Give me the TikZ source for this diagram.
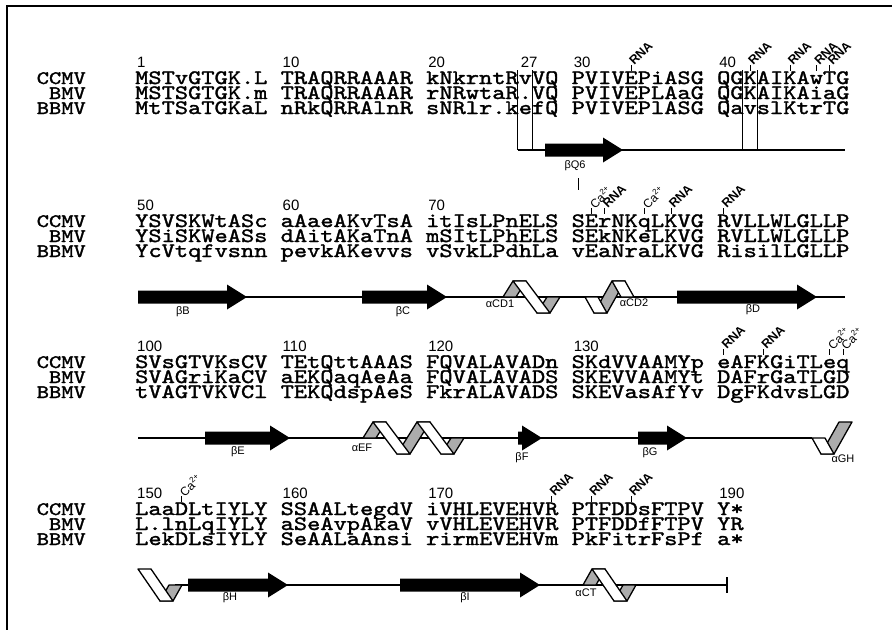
\documentclass[tikz,border=0pt]{standalone}
\usepackage{fontspec}
\setmainfont{Liberation Sans}
\newfontfamily\monofam{lmmono10-regular.otf}[FakeStretch=1.229, FakeBold=1.6]
\newcommand{\seqfont}{\monofam\fontsize{20.5}{15}\selectfont}
\newcommand{\specfont}{\monofam\fontsize{19}{15}\selectfont}
\newcommand{\numfont}{\fontsize{15}{15}\selectfont}
\newcommand{\sitefont}{\bfseries\fontsize{12.5}{12.5}\selectfont}
\newcommand{\ssfont}{\fontsize{11}{11}\selectfont}
\newcommand{\caion}{\mdseries\fontsize{12}{12}\selectfont Ca\textsuperscript{2+}}

% alignment grid (pixels): first column and column pitch
\def\xo{135}
\def\cw{13.23}

\tikzset{
  species/.style={font=\specfont, anchor=base east, inner sep=0pt},
  seq/.style={font=\seqfont, anchor=base west, inner sep=0pt},
  resnum/.style={font=\numfont, anchor=base west, inner sep=0pt},
  site label/.style={font=\sitefont, rotate=45, anchor=west, inner sep=0pt},
  site tick/.style={line width=0.6pt},
  ss label/.style={font=\ssfont, inner sep=0pt},
  backbone/.style={line width=1.3pt},
  strand/.style={fill=black},
  front band/.style={fill=white, draw=black, line width=1.3pt, line join=round},
  back band/.style={fill=gray!65, draw=black, line width=1.3pt, line join=round}
}

% one block of three aligned sequences: tag, CCMV baseline, three strings
\newcommand{\seqrow}[5]{%
  \node[species] (name-ccmv-#1) at (86,#2) {CCMV};
  \node[species] (name-bmv-#1)  at (86,#2+15) {BMV};
  \node[species] (name-bbmv-#1) at (86,#2+30) {BBMV};
  \node[seq] (ccmv-#1) at (\xo,#2) {#3};
  \node[seq] (bmv-#1)  at (\xo,#2+15) {#4};
  \node[seq] (bbmv-#1) at (\xo,#2+30) {#5};}

% binding site: tag, column, foot of tick, text
\newcommand{\site}[4]{%
  \coordinate (foot-#1-#2) at ({\xo+(#2+0.5)*\cw},#3);
  \draw[site tick] (foot-#1-#2) -- ++(0,-6) coordinate (top-#1-#2);
  \node[site label] (site-#1-#2) at ([yshift=1.5pt]top-#1-#2) {#4};}

% beta strand: x start, x tip, line y
\newcommand{\strand}[3]{%
  \fill[strand] (#1,#3-6.5) -- (#2-20,#3-6.5) -- (#2-20,#3-12.5) -- (#2,#3)
    -- (#2-20,#3+12.5) -- (#2-20,#3+6.5) -- (#1,#3+6.5) -- cycle;}

% helix ribbon pieces: x, line y, run
\newcommand{\fbfull}[3]{\filldraw[front band] (#1,#2-16) -- ++(13,0) -- ++(#3,32) -- ++(-13,0) -- cycle;}
\newcommand{\fbup}[3]{\filldraw[front band] (#1,#2-16) -- ++(13,0) -- ++(#3/2,16) -- ++(-13,0) -- cycle;}
\newcommand{\fbdown}[3]{\filldraw[front band] (#1+#3/2,#2) -- ++(13,0) -- ++(#3/2,16) -- ++(-13,0) -- cycle;}
\newcommand{\bbfull}[3]{\filldraw[back band] (#1,#2+16) -- ++(13,0) -- ++(#3,-32) -- ++(-13,0) -- cycle;}
\newcommand{\bbup}[3]{\filldraw[back band] (#1+#3/2,#2) -- ++(13,0) -- ++(#3/2,-16) -- ++(-13,0) -- cycle;}
\newcommand{\bbdown}[3]{\filldraw[back band] (#1,#2+16) -- ++(13,0) -- ++(#3/2,-16) -- ++(-13,0) -- cycle;}

\begin{document}
\begin{tikzpicture}[x=1pt, y=-1pt, line cap=butt]

  \useasboundingbox (0,0) rectangle (892,630);
  \fill[white] (0,0) rectangle (892,630);

  % Frame
  \draw[line width=1.2pt] (892,6) -- (7,6) -- (7,630);

  % Sequences
  \seqrow{r1}{84}{MSTvGTGK.L TRAQRRAAAR kNkrntRvVQ PVIVEPiASG QGKAIKAwTG}
                 {MSTSGTGK.m TRAQRRAAAR rNRwtaR.VQ PVIVEPLAaG QGKAIKAiaG}
                 {MtTSaTGKaL nRkQRRAlnR sNRlr.kefQ PVIVEPlASG QavslKtrTG}
  \seqrow{r2}{227}{YSVSKWtASc aAaeAKvTsA itIsLPnELS SErNKqLKVG RVLLWLGLLP}
                  {YSiSKWeASs dAitAKaTnA mSItLPhELS SEkNKeLKVG RVLLWLGLLP}
                  {YcVtqfvsnn pevkAKevvs vSvkLPdhLa vEaNraLKVG RisilLGLLP}
  \seqrow{r3}{368}{SVsGTVKsCV TEtQttAAAS FQVALAVADn SKdVVAAMYp eAFKGiTLeq}
                  {SVAGriKaCV aEKQaqAeAa FQVALAVADS SKEVVAAMYt DAFrGaTLGD}
                  {tVAGTVKVCl TEKQdspAeS FkrALAVADS SKEVasAfYv DgFKdvsLGD}
  \seqrow{r4}{515}{LaaDLtIYLY SSAALtegdV iVHLEVEHVR PTFDDsFTPV Y*}
                  {L.lnLqIYLY aSeAvpAkaV vVHLEVEHVR PTFDDfFTPV YR}
                  {LekDLsIYLY SeAALaAnsi rirmEVEHVm PkFitrFsPf a*}

  % Residue numbers
  \foreach \n/\j in {1/0, 10/11, 20/22, 27/29, 30/33, 40/44}
    \node[resnum] (num-\n) at ({\xo+\j*\cw+2},67.5) {\n};
  \foreach \n/\j in {50/0, 60/11, 70/22}
    \node[resnum] (num-\n) at ({\xo+\j*\cw+2},210.5) {\n};
  \foreach \n/\j in {100/0, 110/11, 120/22, 130/33}
    \node[resnum] (num-\n) at ({\xo+\j*\cw+2},351.5) {\n};
  \foreach \n/\j in {150/0, 160/11, 170/22, 190/44}
    \node[resnum] (num-\n) at ({\xo+\j*\cw+2},498.5) {\n};

  % RNA and calcium contacts
  \foreach \j in {37, 46, 49, 51, 52} {\site{r1}{\j}{70.5}{RNA}}
  \foreach \j in {34, 38} {\site{r2}{\j}{213.5}{\caion}}
  \foreach \j in {35, 40, 44} {\site{r2}{\j}{213.5}{RNA}}
  \foreach \j in {44, 47} {\site{r3}{\j}{354.5}{RNA}}
  \foreach \j in {52, 53} {\site{r3}{\j}{354.5}{\caion}}
  \site{r4}{3}{501.5}{\caion}
  \foreach \j in {31, 34, 37} {\site{r4}{\j}{501.5}{RNA}}
  \draw[site tick] (578,178) -- (578,190);

  % Boxed columns
  \draw[line width=0.7pt] (517.8,70) -- (517.8,150) (532.8,70) -- (532.8,150);
  \draw[line width=1pt] (742.5,70) -- (742.5,150);
  \draw[line width=0.6pt] (757.5,70) -- (757.5,150);

  % Backbone lines
  \draw[backbone] (518,150) -- (845,150);
  \draw[backbone] (138,297) -- (845,297);
  \draw[backbone] (138,438) -- (812,438);
  \draw[backbone] (175,585) -- (727,585);
  \draw[backbone] (727,577) -- (727,593);

  % Strands
  \strand{545}{623}{150}
  \strand{138}{247}{297} \strand{362}{447}{297} \strand{677}{817}{297}
  \strand{205}{290}{438} \strand{518}{542}{438} \strand{638}{687}{438}
  \strand{188}{288}{585} \strand{400}{540}{585}

  % Helices: back side first, front side on top
  \bbup{493}{297}{20} \bbdown{537}{297}{20} \fbfull{513}{297}{24}   % aCD1
  \bbfull{594}{297}{18} \fbdown{576}{297}{18} \fbup{612}{297}{18}   % aCD2
  \bbup{353}{438}{20} \bbfull{397}{438}{20} \bbdown{441}{438}{20}   % aEF
  \fbfull{373}{438}{24} \fbfull{417}{438}{24}
  \bbfull{821}{438}{18} \fbdown{803}{438}{18}                       % aGH
  \bbdown{160}{585}{18} \fbfull{138}{585}{22}                       % aH
  \bbup{574}{585}{18} \bbdown{614}{585}{18} \fbfull{592}{585}{22}   % aCT

  % Secondary structure labels
  \node[ss label] (lab-bQ6)  at (575,166) {βQ6};
  \node[ss label] (lab-bB)   at (183,312) {βB};
  \node[ss label] (lab-bC)   at (403,312) {βC};
  \node[ss label] (lab-aCD1) at (500,304) {αCD1};
  \node[ss label] (lab-aCD2) at (634,303) {αCD2};
  \node[ss label] (lab-bD)   at (753,310) {βD};
  \node[ss label] (lab-bE)   at (238,452) {βE};
  \node[ss label] (lab-aEF)  at (362,448) {αEF};
  \node[ss label] (lab-bF)   at (522,458) {βF};
  \node[ss label] (lab-bG)   at (650,453) {βG};
  \node[ss label] (lab-aGH)  at (843,459) {αGH};
  \node[ss label] (lab-bH)   at (230,598) {βH};
  \node[ss label] (lab-bI)   at (465,598) {βI};
  \node[ss label] (lab-aCT)  at (586,593) {αCT};

\end{tikzpicture}
\end{document}
